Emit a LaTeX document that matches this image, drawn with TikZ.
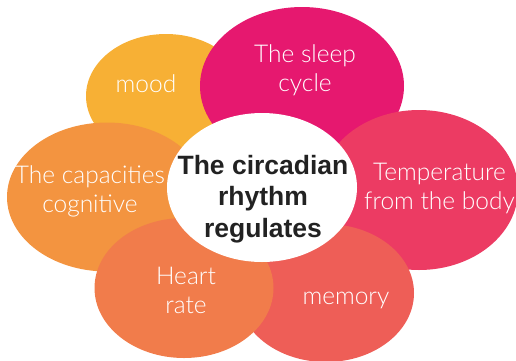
\documentclass[tikz,border=0pt]{standalone}
\usepackage{fontspec}
\setmainfont{Liberation Sans}
\newfontfamily\lightfont{Lato}[UprightFont=* Light]
\definecolor{cMood}{HTML}{F7B035}
\definecolor{cSleep}{HTML}{E6186F}
\definecolor{cTemp}{HTML}{EC3B63}
\definecolor{cMem}{HTML}{EE5E57}
\definecolor{cCap}{HTML}{F39440}
\definecolor{cHeart}{HTML}{F17C4B}
\definecolor{cText}{HTML}{222222}
\tikzset{
  lbl/.style={text=white, align=center, inner sep=0pt, anchor=base,
    font=\lightfont\fontsize{24.5}{29}\selectfont},
  hub/.style={text=cText, align=center, inner sep=0pt, anchor=base,
    font=\fontsize{26.5}{31.5}\selectfont\bfseries}
}
\begin{document}
\begin{tikzpicture}[x=1pt,y=-1pt]
\useasboundingbox (0,0) rectangle (516,360);
\fill[cMood]  (166,96)  ellipse [x radius=80pt, y radius=62pt];
\fill[cSleep] (302,86)  ellipse [x radius=102pt, y radius=79pt];
\fill[cTemp]  (419,190) ellipse [x radius=99pt, y radius=80pt];
\fill[cMem]   (326,293) ellipse [x radius=88pt, y radius=69pt];
\fill[cCap]   (107,197) ellipse [x radius=100pt, y radius=74.5pt];
\fill[cHeart] (184,288) ellipse [x radius=89.5pt, y radius=70pt];
\fill[white]  (262,187.5) ellipse [x radius=95pt, y radius=74.5pt];
% anchor=base of a multi-line node is the baseline of its last line
\node[lbl] (mood)   at (146,92)  {mood};
\node[lbl] (sleep)  at (305,91)  {The sleep\\cycle};
\node[lbl] (temp)   at (439.5,209) {Temperature\\from the body};
\node[lbl] (cap)    at (90,212)  {The capacities\\cognitive};
\node[lbl] (heart)  at (186,313) {Heart\\rate};
\node[lbl] (memory) at (346,304) {memory};
\node[hub] (center) at (263,237) {The circadian\\rhythm\\regulates};
\end{tikzpicture}
\end{document}
